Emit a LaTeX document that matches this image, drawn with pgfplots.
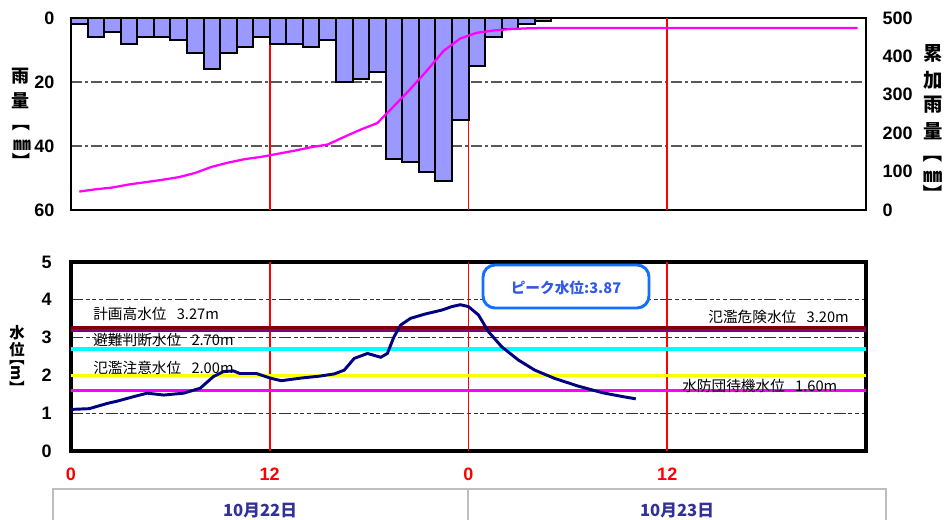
\documentclass[border=0pt]{standalone}
\usepackage{fontspec}
\setmainfont{Liberation Sans}
\newfontfamily\jp{Noto Sans CJK JP}
\usepackage{graphicx}
\usepackage{pgfplots}
\pgfplotsset{compat=1.18}

\definecolor{barblue}{RGB}{153,153,255}
\definecolor{navyline}{RGB}{0,0,128}
\definecolor{maroonl}{RGB}{128,0,0}
\definecolor{purplel}{RGB}{128,0,128}
\definecolor{cyanl}{RGB}{0,255,255}
\definecolor{yellowl}{RGB}{255,255,0}
\definecolor{magental}{RGB}{255,0,255}
\definecolor{redl}{RGB}{255,0,0}
\definecolor{peakborder}{RGB}{20,110,255}
\definecolor{peaktext}{RGB}{50,90,230}
\definecolor{datetext}{RGB}{50,50,150}
\definecolor{boxgray}{RGB}{190,190,190}

\begin{document}
\begin{tikzpicture}
\path[use as bounding box] (0,0) rectangle (710.25pt,389.25pt);
\clip (0,0) rectangle (710.25pt,389.25pt);

% ---------------- top panel: hourly rainfall ----------------
\begin{axis}[
  at={(53.25pt,231.75pt)}, anchor=south west, scale only axis,
  width=596.25pt, height=144pt,
  xmin=0, xmax=48, ymin=0, ymax=60, y dir=reverse,
  xtick={12,24,36}, xticklabels={}, ytick={0,20,40,60},
  major tick length=0pt,
  ymajorgrids,
  y grid style={draw=black!65, line width=0.9pt, dash pattern=on 8pt off 2.5pt on 2pt off 2.5pt},
  axis line style={line width=1.8pt},
  tick label style={font=\bfseries\fontsize{13.5}{14}\selectfont},
  /pgf/number format/assume math mode=true,
  yticklabel style={xshift=-9pt},
]
\addplot[redl, line width=1.4pt, no marks] coordinates {(12,0) (12,60)};
\addplot[redl, line width=1.4pt, no marks] coordinates {(24,0) (24,60)};
\addplot[redl, line width=1.4pt, no marks] coordinates {(36,0) (36,60)};
\addplot[ybar, bar width=1, bar shift=0pt, fill=barblue, draw=black, line width=1.5pt] coordinates {
(0.5,2) (1.5,6) (2.5,4.5) (3.5,8) (4.5,6) (5.5,6) (6.5,7) (7.5,11) (8.5,16) (9.5,11)
(10.5,9) (11.5,6) (12.5,8) (13.5,8) (14.5,9) (15.5,7) (16.5,20) (17.5,19) (18.5,17)
(19.5,44) (20.5,45) (21.5,48) (22.5,51) (23.5,32) (24.5,15) (25.5,6) (26.5,3.5)
(27.5,2) (28.5,1)
};
\end{axis}

% ---------------- top panel: cumulative rainfall ----------------
\begin{axis}[
  at={(53.25pt,231.75pt)}, anchor=south west, scale only axis,
  width=596.25pt, height=144pt,
  xmin=0, xmax=48, ymin=0, ymax=500,
  axis y line*=right, axis x line=none,
  ytick={0,100,200,300,400,500},
  major tick length=0pt,
  axis line style={line width=1.8pt},
  tick label style={font=\bfseries\fontsize{13.5}{14}\selectfont},
  /pgf/number format/assume math mode=true,
  yticklabel style={xshift=9pt},
]
\addplot[magental, line width=1.7pt, no marks] coordinates {
(0.5,48) (1.5,54) (2.5,58.5) (3.5,66.5) (4.5,72.5) (5.5,78.5) (6.5,85.5) (7.5,96.5)
(8.5,112.5) (9.5,123.5) (10.5,132.5) (11.5,138.5) (12.5,146.5) (13.5,154.5)
(14.5,163.5) (15.5,170.5) (16.5,190.5) (17.5,209.5) (18.5,226.5) (19.5,270.5)
(20.5,315.5) (21.5,363.5) (22.5,414.5) (23.5,446.5) (24.5,461.5) (25.5,467.5)
(26.5,471) (27.5,473) (28.5,474) (47.5,474)
};
\end{axis}

% ---------------- bottom panel: water level ----------------
\begin{axis}[
  at={(53.25pt,51pt)}, anchor=south west, scale only axis,
  width=596.25pt, height=141.75pt,
  xmin=0, xmax=48, ymin=0, ymax=5,
  xtick={0,12,24,36}, xticklabels={0,12,0,12},
  ytick={0,1,2,3,4,5},
  major tick length=0pt,
  ymajorgrids,
  y grid style={draw=black!80, line width=0.8pt, dash pattern=on 9pt off 2pt on 3pt off 2pt on 3pt off 2pt on 3pt off 2pt},
  axis line style={line width=2.4pt},
  tick label style={font=\bfseries\fontsize{13.5}{14}\selectfont},
  /pgf/number format/assume math mode=true,
  yticklabel style={xshift=-11pt},
  xticklabel style={text=redl, yshift=-9pt},
]
\addplot[redl, line width=1.4pt, no marks] coordinates {(12,0) (12,5)};
\addplot[redl, line width=1.4pt, no marks] coordinates {(24,0) (24,5)};
\addplot[redl, line width=1.4pt, no marks] coordinates {(36,0) (36,5)};
\addplot[maroonl, line width=2.2pt, no marks] coordinates {(0,3.27) (48,3.27)};
\addplot[purplel, line width=2.2pt, no marks] coordinates {(0,3.20) (48,3.20)};
\addplot[cyanl, line width=2.8pt, no marks] coordinates {(0,2.70) (48,2.70)};
\addplot[yellowl, line width=2.8pt, no marks] coordinates {(0,2.00) (48,2.00)};
\addplot[magental, line width=2.8pt, no marks] coordinates {(0,1.60) (48,1.60)};
\addplot[navyline, line width=2.2pt, no marks] coordinates {
(0,1.10) (1.1,1.12) (2.2,1.26) (2.8,1.32) (3.8,1.44) (4.6,1.53) (5.6,1.48) (6.8,1.53)
(7.8,1.66) (8.6,1.97) (9.2,2.10) (9.8,2.12) (10.2,2.05) (11.2,2.05) (12.1,1.92)
(12.7,1.86) (13.9,1.93) (15.0,1.98) (15.9,2.04) (16.5,2.14) (17.1,2.45) (17.9,2.58)
(18.7,2.48) (19.1,2.58) (19.5,3.02) (19.9,3.33) (20.5,3.51) (21.35,3.62) (22.4,3.73)
(23.0,3.82) (23.5,3.87) (24.0,3.82) (24.6,3.60) (25.2,3.16) (26.0,2.76) (27.0,2.41)
(28.0,2.14) (29.2,1.92) (30.6,1.72) (32.1,1.54) (33.3,1.44) (34.1,1.38)
};
\end{axis}

% ---------------- texts in image pixel coordinates ----------------
\begin{scope}[x=0.75pt, y=-0.75pt, shift={(0pt,389.25pt)}]
  % left rainfall label
  \begin{scope}[every node/.style={font=\jp\bfseries\fontsize{13.5}{13.5}\selectfont, inner sep=0pt}]
    \node at (21,76) {雨};
    \node at (21,101) {量};
    \node at (21,122) {\rotatebox{-90}{【}};
    \node at (22,145) {㎜};
    \node at (21,161) {\rotatebox{-90}{】}};
  \end{scope}
  % right cumulative label
  \begin{scope}[every node/.style={font=\jp\bfseries\fontsize{14.5}{14.5}\selectfont, inner sep=0pt}]
    \node at (933,53) {累};
    \node at (933,80) {加};
    \node at (933,105) {雨};
    \node at (933,131) {量};
    \node at (933,153) {\rotatebox{-90}{【}};
    \node at (933,177) {㎜};
    \node at (933,194) {\rotatebox{-90}{】}};
  \end{scope}
  % water level label
  \begin{scope}[every node/.style={font=\jp\bfseries\fontsize{11.5}{11.5}\selectfont, inner sep=0pt}]
    \node at (17,333) {水};
    \node at (17,350) {位};
    \node at (17,373) {\rotatebox{-90}{【m】}};
  \end{scope}
  % threshold labels
  \begin{scope}[every node/.style={font=\jp\fontsize{11}{11}\selectfont, inner sep=0pt}]
    \node[anchor=west] at (93,314) {計画高水位\hspace{0.7em}3.27m};
    \node[anchor=west] at (93,340) {避難判断水位\hspace{0.7em}2.70m};
    \node[anchor=west] at (93,368) {氾濫注意水位\hspace{0.7em}2.00m};
    \node[anchor=east] at (849,317) {氾濫危険水位\hspace{0.7em}3.20m};
    \node[anchor=west] at (682,386) {水防団待機水位\hspace{0.7em}1.60m};
  \end{scope}
  % peak box
  \draw[peakborder, line width=2.2pt, rounded corners=9pt, fill=white] (483,265) rectangle (649,308);
  \node[text=peaktext, font=\jp\bfseries\fontsize{11}{11}\selectfont] at (566,288) {ピーク水位:3.87};
  % date boxes
  \draw[boxgray, line width=2pt] (53,489) rectangle (886,545);
  \draw[boxgray, line width=2pt] (468,489) -- (468,545);
  \node[text=datetext, font=\jp\bfseries\fontsize{12.5}{12.5}\selectfont] at (260,511) {10月22日};
  \node[text=datetext, font=\jp\bfseries\fontsize{12.5}{12.5}\selectfont] at (677,511) {10月23日};
\end{scope}
\end{tikzpicture}
\end{document}
